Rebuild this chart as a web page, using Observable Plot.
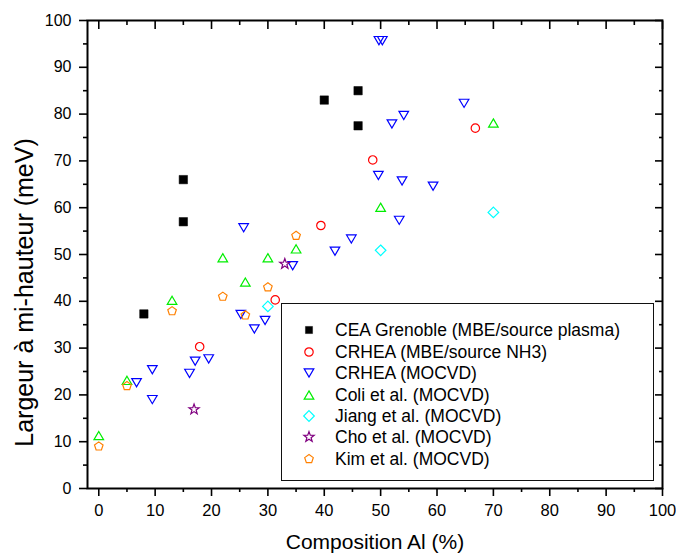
<!DOCTYPE html>
<html>
<head>
<meta charset="utf-8">
<script src="https://cdn.jsdelivr.net/npm/d3@7"></script>
<script src="https://cdn.jsdelivr.net/npm/@observablehq/plot@0.6"></script>
<style>
  body { margin: 0; background: #fff; }
  #wrap { position: relative; width: 676px; height: 555px; font-family: "Liberation Sans", Arial, sans-serif; }
  #legend { position: absolute; left: 281px; top: 303px; width: 373px; height: 178px; box-sizing: border-box;
            border: 1.5px solid #111; background: #fff; }
  .row { position: absolute; left: 0; height: 20px; line-height: 20px; font-size: 17.5px; color: #000; white-space: nowrap; }
  .row svg { position: absolute; left: 17px; top: 0; }
  .row span { position: absolute; left: 53px; top: 0; }
</style>
</head>
<body>
<div id="wrap"><div id="legend"></div></div>
<script>
// ---- data ----
const seriesNames = [
  "CEA Grenoble (MBE/source plasma)",
  "CRHEA (MBE/source NH3)",
  "CRHEA (MOCVD)",
  "Coli et al. (MOCVD)",
  "Jiang et al. (MOCVD)",
  "Cho et al. (MOCVD)",
  "Kim et al. (MOCVD)"
];
const seriesColors = ["#000000", "#ff0000", "#0000ff", "#00ee00", "#00ffff", "#800080", "#ff8000"];
const seriesShapes = ["square", "circle", "triangleDown", "triangleUp", "diamond", "star", "pentagon"];

const ceaX = [8, 15, 15, 40, 46, 46];
const ceaY = [37.3, 57, 66, 83, 85, 77.5];

const crheaMbeX = [17.9, 31.3, 39.4, 48.6, 66.8];
const crheaMbeY = [30.3, 40.3, 56.2, 70.2, 77.0];

const crheaMocvdX = [6.7, 9.5, 9.5, 16.1, 17.1, 19.5, 25.2, 25.7, 27.6, 29.5, 34.4, 41.9, 44.8, 49.6, 49.7, 50.3, 52.0, 53.3, 53.8, 54.1, 59.3, 64.8];
const crheaMocvdY = [22.6, 25.4, 19.0, 24.6, 27.2, 27.7, 37.2, 55.7, 34.1, 35.9, 47.6, 50.7, 53.3, 66.9, 95.7, 95.7, 77.9, 57.3, 65.7, 79.7, 64.6, 82.3];

const coliX = [0, 5, 13, 22, 26, 30, 35, 50, 70];
const coliY = [11.3, 23.1, 40.2, 49.3, 44.1, 49.3, 51.2, 60.1, 78.1];

const jiangX = [30, 50, 70];
const jiangY = [38.9, 50.9, 59.0];

const choX = [16.9, 33];
const choY = [16.9, 48.0];

const kimX = [0, 5, 13, 22, 26, 30, 35];
const kimY = [9.0, 21.9, 37.9, 41.0, 37.0, 43.0, 54.0];

const seriesX = [ceaX, crheaMbeX, crheaMocvdX, coliX, jiangX, choX, kimX];
const seriesY = [ceaY, crheaMbeY, crheaMocvdY, coliY, jiangY, choY, kimY];

const xMajor = d3.range(0, 101, 10);
const xMinor = d3.range(5, 100, 10);
const yMajor = d3.range(0, 101, 10);
const yMinor = d3.range(5, 100, 10);

const xTitle = "Composition Al (%)";
const yTitle = "Largeur à mi-hauteur (meV)";

// ---- symbols ----
function poly(pts) {
  return { draw(ctx) { ctx.moveTo(pts[0][0], pts[0][1]); for (let i = 1; i < pts.length; i++) ctx.lineTo(pts[i][0], pts[i][1]); ctx.closePath(); } };
}
function regular(n, R, rot) {
  const p = [];
  for (let i = 0; i < n; i++) { const a = rot + i * 2 * Math.PI / n; p.push([R * Math.sin(a), -R * Math.cos(a)]); }
  return p;
}
function starPts(R, r) {
  const p = [];
  for (let i = 0; i < 10; i++) { const a = i * Math.PI / 5; const rr = i % 2 ? r : R; p.push([rr * Math.sin(a), -rr * Math.cos(a)]); }
  return p;
}
const SYMBOLS = {
  square: poly([[-4.2, -4.2], [4.2, -4.2], [4.2, 4.2], [-4.2, 4.2]]),
  circle: { draw(ctx) { ctx.moveTo(4.2, 0); ctx.arc(0, 0, 4.2, 0, 2 * Math.PI); ctx.closePath(); } },
  triangleDown: poly([[-4.8, -4.1], [4.8, -4.1], [0, 4.1]]),
  triangleUp: poly([[0, -4.1], [4.8, 4.1], [-4.8, 4.1]]),
  diamond: poly([[0, -5.3], [5.3, 0], [0, 5.3], [-5.3, 0]]),
  star: poly(starPts(5.4, 2.2)),
  pentagon: poly(regular(5, 4.5, 0))
};

// ---- chart ----
const dotMarks = seriesNames.map((name, k) => {
  const data = seriesX[k].map((x, i) => ({ x, y: seriesY[k][i] }));
  const filled = seriesShapes[k] === "square";
  return Plot.dot(data, {
    x: "x", y: "y", r: 4,
    symbol: SYMBOLS[seriesShapes[k]],
    stroke: seriesColors[k],
    fill: filled ? seriesColors[k] : "none",
    strokeWidth: filled ? 0.5 : 1.2
  });
});

const chart = Plot.plot({
  width: 676,
  height: 555,
  marginLeft: 87,
  marginRight: 14,
  marginTop: 20,
  marginBottom: 67,
  style: { fontFamily: "'Liberation Sans', Arial, sans-serif", fontSize: "16px", color: "#000", background: "#fff", overflow: "visible" },
  x: { domain: [-2, 100] },
  y: { domain: [0, 100] },
  marks: [
    Plot.axisX({ ticks: xMajor, tickSize: 8, tickPadding: 8, fontSize: 16.5, label: null, strokeWidth: 1.6, tickFormat: d3.format("d") }),
    Plot.axisX({ ticks: xMinor, tickSize: 4, fill: "none", label: null, strokeWidth: 1.6 }),
    Plot.axisX({ anchor: "top", ticks: xMajor, tickSize: -8, fill: "none", label: null, strokeWidth: 1.6 }),
    Plot.axisX({ anchor: "top", ticks: xMinor, tickSize: -4, fill: "none", label: null, strokeWidth: 1.6 }),
    Plot.axisY({ ticks: yMajor, tickSize: 8, tickPadding: 8, fontSize: 16, label: null, strokeWidth: 1.6, tickFormat: d3.format("d") }),
    Plot.axisY({ ticks: yMinor, tickSize: 4, fill: "none", label: null, strokeWidth: 1.6 }),
    Plot.axisY({ anchor: "right", ticks: yMajor, tickSize: -8, fill: "none", label: null, strokeWidth: 1.6 }),
    Plot.axisY({ anchor: "right", ticks: yMinor, tickSize: -4, fill: "none", label: null, strokeWidth: 1.6 }),
    Plot.frame({ stroke: "#000", strokeWidth: 2 }),
    ...dotMarks,
    Plot.text([xTitle], { frameAnchor: "bottom", dy: 54, fontSize: 21, lineAnchor: "middle", fill: "#000" }),
    Plot.text([yTitle], { frameAnchor: "left", rotate: -90, dx: -63, dy: 38, fontSize: 25, lineAnchor: "middle", textAnchor: "middle", fill: "#000" })
  ]
});

const wrap = document.getElementById("wrap");
wrap.insertBefore(chart, wrap.firstChild);

// ---- legend (inside plot area, as in the reference) ----
const legend = document.getElementById("legend");
seriesNames.forEach((name, k) => {
  const row = document.createElement("div");
  row.className = "row";
  row.style.top = (16.3 + 21.4 * k) + "px";
  const filled = seriesShapes[k] === "square";
  const p = d3.path();
  SYMBOLS[seriesShapes[k]].draw(p);
  const svgNS = "http://www.w3.org/2000/svg";
  const svg = document.createElementNS(svgNS, "svg");
  svg.setAttribute("width", 20); svg.setAttribute("height", 20);
  svg.setAttribute("viewBox", "-10 -10 20 20");
  const path = document.createElementNS(svgNS, "path");
  path.setAttribute("d", p.toString());
  path.setAttribute("fill", filled ? seriesColors[k] : "none");
  path.setAttribute("stroke", seriesColors[k]);
  path.setAttribute("stroke-width", filled ? 0.5 : 1.2);
  if (filled) path.setAttribute("transform", "scale(0.85)");
  svg.appendChild(path);
  row.appendChild(svg);
  const span = document.createElement("span");
  span.textContent = name;
  row.appendChild(span);
  legend.appendChild(row);
});
</script>
</body>
</html>
